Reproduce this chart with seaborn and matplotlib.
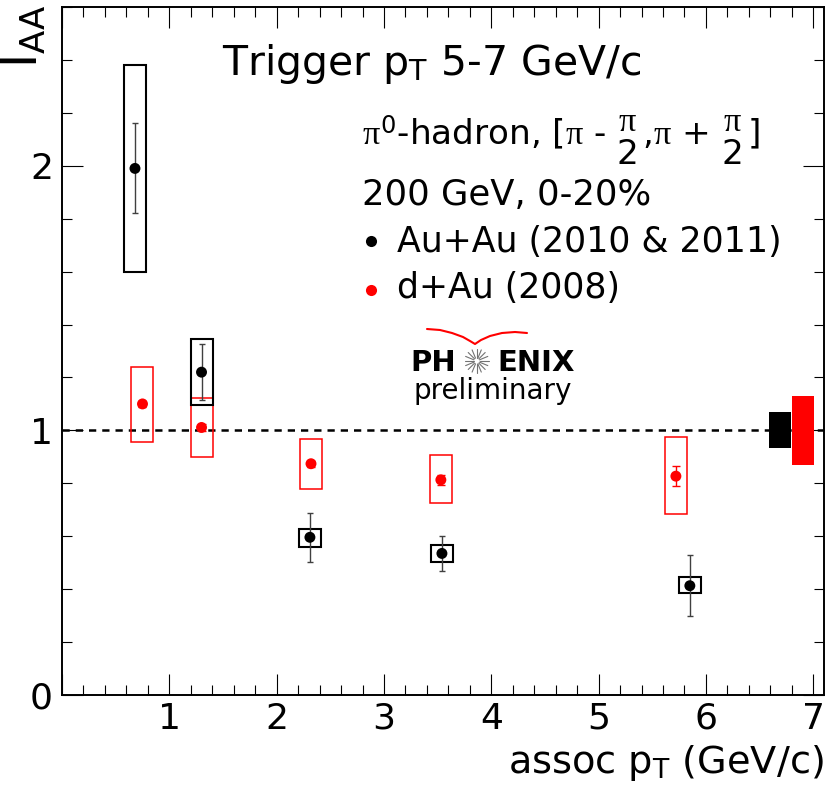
import numpy as np
import pandas as pd
import matplotlib
matplotlib.use("Agg")
import matplotlib.pyplot as plt
import seaborn as sns
from matplotlib.lines import Line2D
from matplotlib.ticker import MultipleLocator, FixedLocator, FixedFormatter

# ---------------- data ----------------
systems = ["Au+Au", "d+Au"]
legend_labels = ["Au+Au (2010 & 2011)", "d+Au (2008)"]

pt_auau = [0.68, 1.30, 2.31, 3.54, 5.85]
iaa_auau = [1.99, 1.22, 0.596, 0.535, 0.413]
stat_auau = [0.17, 0.105, 0.093, 0.066, 0.116]
sys_lo_auau = [1.60, 1.096, 0.559, 0.504, 0.384]
sys_hi_auau = [2.38, 1.347, 0.628, 0.567, 0.447]

pt_dau = [0.75, 1.30, 2.32, 3.53, 5.72]
iaa_dau = [1.10, 1.011, 0.874, 0.813, 0.827]
stat_dau = [0.012, 0.012, 0.012, 0.02, 0.038]
sys_lo_dau = [0.957, 0.90, 0.777, 0.724, 0.684]
sys_hi_dau = [1.238, 1.121, 0.968, 0.906, 0.974]

norm_x = [6.69, 6.90]
norm_unc = [0.068, 0.13]

x_ticks = [0, 1, 2, 3, 4, 5, 6, 7]
x_ticklabels = ["", "1", "2", "3", "4", "5", "6", "7"]
y_ticks = [0, 1, 2]
y_ticklabels = ["0", "1", "2"]

# ---------------- style ----------------
sns.set_style("white")
plt.rcParams.update({
    "font.family": ["DejaVu Sans"],
    "text.color": "black",
    "axes.labelcolor": "black",
    "xtick.color": "black",
    "ytick.color": "black",
    "mathtext.fontset": "custom",
    "mathtext.rm": "DejaVu Sans",
    "mathtext.it": "Liberation Serif",
    "mathtext.bf": "DejaVu Sans:bold",
    "mathtext.sf": "DejaVu Sans",
})

W, H = 827, 793
fig = plt.figure(figsize=(W / 100, H / 100), dpi=100)
fig.patch.set_facecolor("white")
ax = fig.add_axes([62 / W, 1 - 695 / H, (824 - 62) / W, (695 - 7) / H])
ax.set_facecolor("white")


def axfrac(px, py):
    return (px - 62) / 762, (695 - py) / 688


def figfrac(px, py):
    return px / W, 1 - py / H


# reference line
ax.axhline(1.0, color="black", lw=1.8, ls=(0, (2.9, 2.4)), zorder=1)

# systematic boxes
box_w = 0.205
ax.bar(pt_dau, np.subtract(sys_hi_dau, sys_lo_dau), bottom=sys_lo_dau,
       width=box_w, fill=False, edgecolor="red", linewidth=1.1, zorder=2)
ax.bar(pt_auau, np.subtract(sys_hi_auau, sys_lo_auau), bottom=sys_lo_auau,
       width=box_w, fill=False, edgecolor="black", linewidth=1.5, zorder=3)

# normalisation boxes
ax.bar(norm_x, np.multiply(norm_unc, 2), bottom=np.subtract(1.0, norm_unc),
       width=0.205, color=["black", "red"], linewidth=0, zorder=4)

# statistical errors
ax.errorbar(pt_auau, iaa_auau, yerr=stat_auau, fmt="none", ecolor="0.25",
            elinewidth=1.0, capsize=2.2, capthick=1.0, zorder=4)
ax.errorbar(pt_dau, iaa_dau, yerr=stat_dau, fmt="none", ecolor="red",
            elinewidth=1.0, capsize=2.6, capthick=1.0, zorder=4)

# points
df = pd.DataFrame({
    "pt": pt_auau + pt_dau,
    "iaa": iaa_auau + iaa_dau,
    "system": [systems[0]] * len(pt_auau) + [systems[1]] * len(pt_dau),
})
sns.scatterplot(data=df, x="pt", y="iaa", hue="system",
                palette={"Au+Au": "black", "d+Au": "red"},
                s=62, linewidth=0, legend=False, ax=ax, zorder=5)

# axes
ax.set_xlim(0, 7.1)
ax.set_ylim(0, 2.6)
ax.xaxis.set_major_locator(FixedLocator(x_ticks))
ax.xaxis.set_major_formatter(FixedFormatter(x_ticklabels))
ax.xaxis.set_minor_locator(MultipleLocator(0.2))
ax.yaxis.set_major_locator(FixedLocator(y_ticks))
ax.yaxis.set_major_formatter(FixedFormatter(y_ticklabels))
ax.yaxis.set_minor_locator(MultipleLocator(0.2))
ax.tick_params(which="both", direction="in", top=True, right=True,
               bottom=True, left=True,
               color="black", width=0.8, labelsize=26, labelcolor="black")
ax.tick_params(which="major", length=15)
ax.tick_params(which="minor", length=7.5)
ax.tick_params(axis="x", pad=5)
ax.tick_params(axis="y", pad=6.5)
for s in ax.spines.values():
    s.set_visible(True)
    s.set_linewidth(1.4)
    s.set_color("black")

ax.set_xlabel(r"assoc p$_{\mathregular{T}}$ (GeV/c)", fontsize=27.5, color="black")
ax.xaxis.set_label_coords(1.0, -0.1134)
ax.xaxis.label.set_ha("right")
ax.xaxis.label.set_va("baseline")

ax.set_ylabel(r"$\mathregular{I_{AA}}$", fontsize=35, loc="top", color="black")
ax.yaxis.set_label_coords(-0.0315, 1.003)
ax.yaxis.label.set_va("baseline")

# texts
ax.text(*axfrac(222, 75), r"Trigger p$_{\mathregular{T}}$ 5-7 GeV/c",
        fontsize=29.5, color="black", transform=ax.transAxes,
        va="baseline", ha="left")
ax.text(*axfrac(361.7, 145),
        r"$\pi^{0}$-hadron, [$\pi$ - $\genfrac{}{}{0}{0}{\pi}{2}$,$\pi$ + $\genfrac{}{}{0}{0}{\pi}{2}$]",
        fontsize=24.7, color="black", transform=ax.transAxes,
        va="baseline", ha="left")
ax.text(*axfrac(361.7, 205), "200 GeV, 0-20%",
        fontsize=25.5, color="black", transform=ax.transAxes,
        va="baseline", ha="left")

# legend
leg_colors = ["black", "red"]
leg_y = [241, 290]
leg_base = [251.7, 298]
for lab, c, my, by in zip(legend_labels, leg_colors, leg_y, leg_base):
    mx, myf = axfrac(371, my)
    ax.plot([mx], [myf], "o", ms=8, color=c, mew=0,
            transform=ax.transAxes, clip_on=False, zorder=6)
    ax.text(*axfrac(396.7, by), lab, fontsize=25, color="black",
            transform=ax.transAxes, va="baseline", ha="left")

# PHENIX preliminary logo
ax.text(*axfrac(410, 371), "PH", fontsize=21, fontweight="bold",
        family="DejaVu Sans", color="black", transform=ax.transAxes,
        va="baseline", ha="left")
ax.text(*axfrac(575, 371), "ENIX", fontsize=21, fontweight="bold",
        family="DejaVu Sans", color="black", transform=ax.transAxes,
        va="baseline", ha="right")
ax.text(*axfrac(492.5, 399), "preliminary", fontsize=20,
        family="DejaVu Sans", color="black", transform=ax.transAxes,
        va="baseline", ha="center")
cx, cy = 476.7, 361.0
for ang in np.linspace(0, 2 * np.pi, 16, endpoint=False):
    x0, y0 = figfrac(cx + 3 * np.cos(ang), cy + 3 * np.sin(ang))
    x1, y1 = figfrac(cx + 12 * np.cos(ang), cy + 12 * np.sin(ang))
    fig.add_artist(Line2D([x0, x1], [y0, y1], color="0.45", lw=0.8,
                          transform=fig.transFigure))
swoosh = [(427, 329), (440, 330), (452, 333), (463, 337), (470, 341),
          (475, 344), (481, 340), (490, 336), (502, 333), (515, 332), (527, 333)]
sx, sy = zip(*[figfrac(p, q) for p, q in swoosh])
fig.add_artist(Line2D(sx, sy, color="red", lw=1.5, transform=fig.transFigure,
                      solid_capstyle="round"))

fig.savefig("out.png", dpi=100, facecolor="white")
